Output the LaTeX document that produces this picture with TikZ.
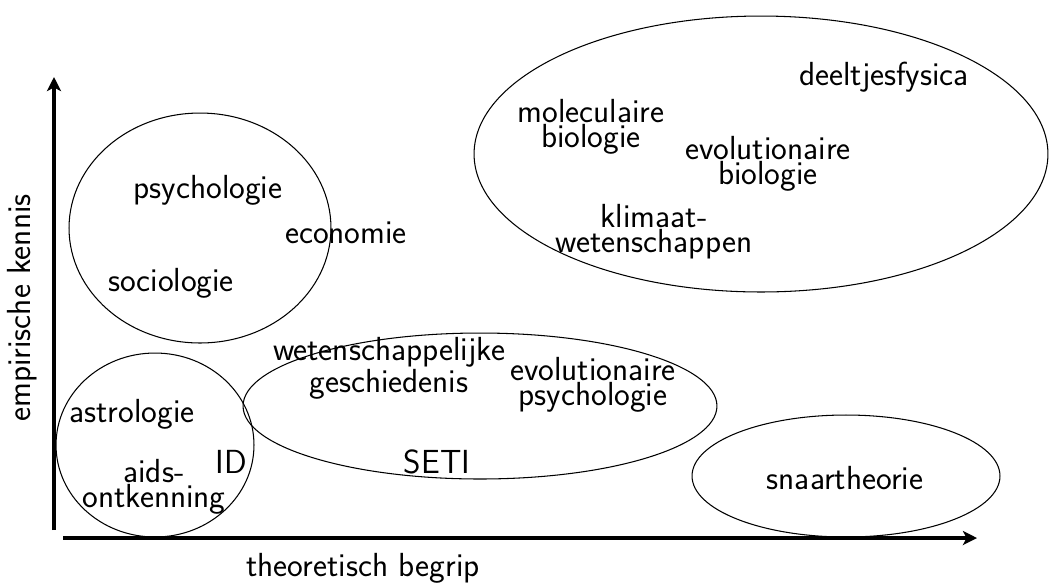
\documentclass[tikz,border=0pt]{standalone}
\usetikzlibrary{shapes.geometric,arrows.meta}
\begin{document}
\begin{tikzpicture}[x=0.02cm,y=-0.02cm,
	every node/.style={font=\sffamily\fontsize{19}{11.5}\selectfont,align=center,inner sep=0},
	field/.style={ellipse,draw,line width=0.6pt},
	axis/.style={line width=2pt,-{Stealth[length=8pt,width=8pt,inset=2pt]}}]
\useasboundingbox (0,0) rectangle (1051,583);
% axes
\coordinate (ystart) at (54,530);
\coordinate (yend) at (54,77);
\coordinate (xstart) at (63,538);
\coordinate (xend) at (977,538);
\draw[axis] (ystart) -- (yend);
\draw[axis] (xstart) -- (xend);
\node[rotate=90] (ylab) at (22,308) {empirische kennis};
\node (xlab) at (363,568) {theoretisch begrip};
% fields
\node[field,minimum width=5.24cm,minimum height=4.6cm] (soc) at (200,228) {};
\node[field,minimum width=3.96cm,minimum height=3.68cm] (pseudo) at (155,445) {};
\node[field,minimum width=9.48cm,minimum height=2.92cm] (mid) at (480,406) {};
\node[field,minimum width=11.48cm,minimum height=5.52cm] (nat) at (761,154) {};
\node[field,minimum width=6.16cm,minimum height=2.44cm] (snaar) at (846,476) {};
% labels
\node (psy) at (208,190) {psychologie};
\node (eco) at (346,233) {economie};
\node (socio) at (171,283) {sociologie};
\node (astro) at (132,414) {astrologie};
\node (id) at (231,462) {ID};
\node (aids) at (154,487) {aids-\\ontkenning};
\node (wetg) at (389,368) {wetenschappelijke\\geschiedenis};
\node (evpsy) at (593,385) {evolutionaire\\psychologie};
\node (seti) at (437,462) {SETI};
\node (deel) at (884,77) {deeltjesfysica};
\node (mol) at (591,127) {moleculaire\\biologie};
\node (evbio) at (768,164) {evolutionaire\\biologie};
\node (klim) at (654,232) {klimaat-\\wetenschappen};
\node (snt) at (845,478) {snaartheorie};
\end{tikzpicture}
\end{document}
